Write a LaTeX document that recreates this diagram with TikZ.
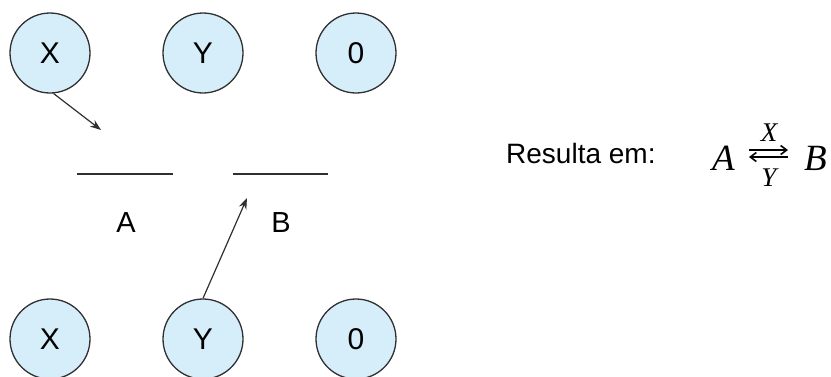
\documentclass[tikz,border=0pt]{standalone}
\usepackage{fontspec}
\setmainfont{Liberation Sans}
\newfontfamily\serifit{Liberation Serif}[ItalicFont={* Italic}]
\usetikzlibrary{arrows.meta}
\definecolor{cfill}{HTML}{D6EDFA}
\definecolor{cline}{HTML}{303030}
\tikzset{
  bubble/.style={circle, draw=cline, line width=1.3pt, fill=cfill, minimum size=80pt, inner sep=0pt, font=\fontsize{30}{32}\selectfont},
  bar/.style={draw=cline, line width=1.4pt},
  link/.style={draw=cline, line width=1.2pt, -{Stealth[length=11pt,width=8pt]}},
  lbl/.style={anchor=base, inner sep=0pt, font=\fontsize{29}{31}\selectfont},
  mlet/.style={anchor=base west, inner sep=0pt, font=\fontsize{37}{39}\selectfont\serifit\itshape},
  mscr/.style={anchor=base, inner sep=0pt, font=\fontsize{27}{29}\selectfont\serifit\itshape},
  eqarr/.style={draw=black, line width=1.6pt, -{Straight Barb[length=6pt,width=9pt]}}
}
\begin{document}
\begin{tikzpicture}[x=1pt,y=-1pt]
\useasboundingbox (0,0) rectangle (831,376);
% top row
\node[bubble] (x1) at (50,53) {X};
\node[bubble] (y1) at (203,53) {Y};
\node[bubble] (z1) at (356,53) {0};
% bottom row
\node[bubble] (x2) at (50,339) {X};
\node[bubble] (y2) at (203,339) {Y};
\node[bubble] (z2) at (356,339) {0};
% bars
\coordinate (a1) at (77,174); \coordinate (a2) at (173,174);
\coordinate (b1) at (233,174); \coordinate (b2) at (328,174);
\draw[bar] (a1) -- (a2);
\draw[bar] (b1) -- (b2);
\node[lbl] (la) at (126,232) {A};
\node[lbl] (lb) at (281,232) {B};
% arrows
\coordinate (t1) at (101,130);
\coordinate (t2) at (247,198);
\draw[link] (x1.-85) -- (t1);
\draw[link] (y2.north) -- (t2);
% result
\node[anchor=base west, inner sep=0pt, font=\fontsize{28}{30}\selectfont] (res) at (506,163) {Resulta em:};
\node[mlet] (ma) at (712,170) {A};
\node[mlet] (mb) at (804,170) {B};
\node[mscr] (mx) at (769,141) {X};
\node[mscr] (my) at (769,186) {Y};
\coordinate (r1) at (749,150); \coordinate (r2) at (788,150);
\coordinate (l1) at (788,157); \coordinate (l2) at (749,157);
\draw[eqarr] (r1) -- (r2);
\draw[eqarr] (l1) -- (l2);
\end{tikzpicture}
\end{document}
